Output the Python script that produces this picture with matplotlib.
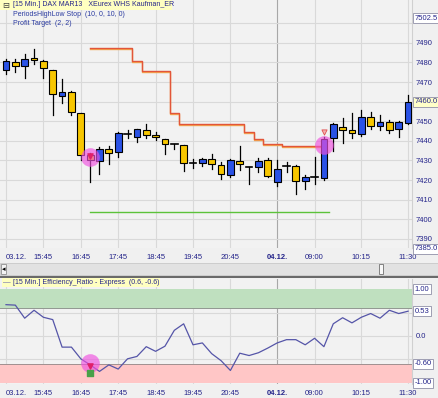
import matplotlib
matplotlib.use("Agg")
import matplotlib.pyplot as plt
import matplotlib.transforms as mtransforms
from matplotlib.patches import Rectangle

plt.rcParams['font.family'] = ['Liberation Sans', 'DejaVu Sans']
plt.rcParams['font.size'] = 5.5

# Velas de 15 minutos (DAX MAR13)
aperturas = [7476, 7480, 7478, 7482.5, 7481, 7476, 7463, 7465, 7454, 7433,
             7429.5, 7436, 7434.5, 7443.5, 7442, 7445.5, 7443, 7441, 7438.5, 7438,
             7428.5, 7428.5, 7430.5, 7427.5, 7422.5, 7429.5, 7426.5, 7426.5, 7430,
             7419, 7427, 7427, 7419.5, 7421.5, 7421, 7441.5, 7447, 7445.5, 7443.5,
             7452, 7447.5, 7449.5, 7446, 7449]
maximos = [7482, 7482, 7484.5, 7487, 7481.5, 7476, 7471.5, 7465.5, 7454, 7434,
           7437, 7437.5, 7444.5, 7445.5, 7446, 7448.5, 7444.5, 7441, 7438.5, 7438,
           7430.5, 7431, 7433.5, 7429, 7430.5, 7437.5, 7426.5, 7431, 7431,
           7430, 7429, 7427.5, 7422.5, 7432, 7442, 7449, 7451.5, 7454, 7455.5,
           7454.5, 7453, 7450.5, 7450, 7463.5]
minimos = [7474, 7475, 7472, 7479, 7472, 7453, 7459.5, 7453, 7430, 7419,
           7423, 7428, 7431.5, 7441.5, 7439.5, 7441.5, 7440.5, 7433.5, 7436, 7424.5,
           7426, 7427, 7425.5, 7420.5, 7421.5, 7425, 7418, 7424, 7421.5,
           7417, 7424, 7413, 7415.5, 7418, 7420, 7435, 7439, 7441.5, 7442.5,
           7446, 7445.5, 7444, 7442, 7448.5]
cierres = [7481, 7478, 7482, 7481.5, 7477, 7464, 7465, 7454.5, 7433, 7430,
           7436, 7434, 7444, 7443.5, 7446, 7443, 7442, 7438.5, 7438.5, 7428.5,
           7428.5, 7430.5, 7428, 7423, 7430, 7428, 7426.5, 7429.5, 7422,
           7425.5, 7427, 7419.5, 7421.5, 7421.5, 7441, 7448.5, 7445.5, 7444, 7452,
           7447.5, 7449.5, 7445.5, 7449.5, 7460]

# Stop PeriodsHighLow (desde la vela 9)
stop_inicio = 9
stop_valores = [7487.5, 7487.5, 7487.5, 7487.5, 7487.5, 7481, 7475.5, 7475.5, 7475.5,
                7454, 7448.5, 7448.5, 7448.5, 7448.5, 7448.5, 7448.5, 7448.5,
                7444.5, 7441, 7438.5, 7438.5, 7437.5, 7437.5, 7437.5, 7437.5, 7437.5]
objetivo = 7403.5

# Efficiency Ratio
er = [0.67, 0.66, 0.38, 0.55, 0.40, 0.35, -0.24, -0.24, -0.49, -0.62,
      -0.76, -0.62, -0.71, -0.49, -0.44, -0.23, -0.33, -0.22, 0.12, 0.26,
      -0.19, -0.15, -0.38, -0.53, -0.74, -0.37, -0.42, -0.36, -0.26,
      -0.15, -0.08, -0.08, -0.19, -0.05, -0.23, 0.26, 0.39, 0.28, 0.40,
      0.48, 0.38, 0.55, 0.48, 0.53]

# Etiquetas del eje de tiempo
tick_pos = [0, 4, 8, 12, 16, 20, 24, 29, 33, 38, 43]
tick_txt = ["03.12.", "15:45", "16:45", "17:45", "18:45", "19:45", "20:45",
            "04.12.", "09:00", "10:15", "11:30"]
precios_eje = list(range(7390, 7501, 10))
dia_nuevo = 29
senal_corto = 9
senal_salida = 34

azul = '#2a52e6'
amarillo = '#f7c600'
texto = '#24248a'
fondo = '#f0f0f0'
rejilla = '#d9d9d9'

W, H = 438, 398
fig = plt.figure(figsize=(W / 100, H / 100), dpi=100, facecolor=fondo)


def caja(x0, y0, x1, y1):
    return [x0 / W, 1 - y1 / H, (x1 - x0) / W, (y1 - y0) / H]


ax = fig.add_axes(caja(0, 0, 412, 248), facecolor='#f2f2f2')
ax2 = fig.add_axes(caja(0, 279, 412, 384), facecolor='#f2f2f2')

n = len(cierres)
xs = list(range(n))

for a in (ax, ax2):
    a.set_xlim(-0.64, 43.42)
    for s in ['top', 'left', 'bottom']:
        a.spines[s].set_visible(False)
    a.spines['right'].set_color('#d0d0d0')
    a.set_xticks(tick_pos)
    a.set_xticklabels(tick_txt)
    a.tick_params(axis='x', length=0, pad=4, colors=texto)
    a.tick_params(axis='y', length=0, pad=2.5, colors=texto)
    a.yaxis.tick_right()
    for p in tick_pos:
        a.axvline(p, color='#a8a8a8' if p == dia_nuevo else rejilla, lw=0.8, zorder=0)
    lbls = a.get_xticklabels()
    lbls[0].set_ha('left')
    lbls[tick_txt.index("04.12.")].set_fontweight('bold')

# ---- panel de precios ----
ax.set_ylim(7385.3, 7511.9)
ax.set_yticks(precios_eje)
# las etiquetas tapadas por las cajas quedan vacias
ax.set_yticklabels(["" if v in (7500, 7460) else str(v) for v in precios_eje])
for v in precios_eje:
    ax.axhline(v, color=rejilla, lw=0.8, zorder=0)

xs_stop = list(range(stop_inicio, stop_inicio + len(stop_valores)))
desplazado = ax.transData + mtransforms.ScaledTranslation(0, -1 / 100, fig.dpi_scale_trans)
ax.plot(xs_stop, stop_valores, drawstyle='steps-mid', color='#f4a850', lw=1.0,
        transform=desplazado, zorder=2)
ax.plot(xs_stop, stop_valores, drawstyle='steps-mid', color='#e2553a', lw=1.0, zorder=2)
ax.plot([xs_stop[0], xs_stop[-1] + 0.5], [objetivo, objetivo], color='#5cc23a', lw=1.0, zorder=2)

for i in xs:
    o, h, l, c = aperturas[i], maximos[i], minimos[i], cierres[i]
    ax.plot([i, i], [l, h], color='black', lw=0.9, zorder=3)
    if o == c:
        ax.plot([i - 0.36, i + 0.36], [o, o], color='black', lw=1.2, zorder=4)
    else:
        col = azul if c > o else amarillo
        ax.add_patch(Rectangle((i - 0.36, min(o, c)), 0.72, abs(c - o), fc=col,
                               ec='black', lw=0.8, zorder=4))

# senales
y_ent = (aperturas[senal_corto] + cierres[senal_corto]) / 2
ax.scatter([senal_corto], [y_ent], s=180, color='#f050e0', alpha=0.65, lw=0, zorder=5)
ax.scatter([senal_corto], [maximos[senal_corto] - 1.5], marker='v', s=14,
           color='#e0206a', zorder=6)
y_sal = cierres[senal_salida] - 3
ax.scatter([senal_salida], [y_sal], s=180, color='#f050e0', alpha=0.65, lw=0, zorder=5)
ax.scatter([senal_salida], [maximos[senal_salida] + 2.5], marker='v', s=14,
           facecolor='#f4b0b0', edgecolor='#e05050', lw=0.6, zorder=6)

cajita = dict(boxstyle='square,pad=0.2', fc='white', ec='#9090a8', lw=0.6)
for val, txt, fc in [(7502.5, "7502.5", 'white'), (7385.0, "7385.0", 'white'),
                     (cierres[-1], "%.1f" % cierres[-1], '#ffffc8')]:
    b = dict(cajita)
    b['fc'] = fc
    ax.text(1.006, val, txt, transform=ax.get_yaxis_transform(), va='center',
            ha='left', color=texto, bbox=b, zorder=10, clip_on=False)

# leyenda superior
fig.patches.append(Rectangle((0, 1 - 10 / H), 172 / W, 10 / H, transform=fig.transFigure,
                             fc='#ffffc0', ec='none', zorder=5))
fig.text(2 / W, 1 - 5 / H, "⊟", color='#404040', va='center', ha='left', fontsize=6,
         family='DejaVu Sans', zorder=6)
fig.text(13 / W, 1 - 5 / H, "[15 Min.] DAX MAR13   XEurex WHS Kaufman_ER", color=texto,
         va='center', ha='left', fontsize=5, zorder=6)
fig.text(13 / W, 1 - 14.5 / H, "PeriodsHighLow Stop  (10, 0, 10, 0)", color='#2a3aa0',
         va='center', ha='left', fontsize=5, zorder=6)
fig.text(13 / W, 1 - 23.5 / H, "Profit Target  (2, 2)", color='#2a3aa0',
         va='center', ha='left', fontsize=5, zorder=6)

# barra de desplazamiento y separador
fig.patches.append(Rectangle((0, 1 - 275 / H), 1, 12 / H, transform=fig.transFigure,
                             fc='#e2e2e2', ec='#c8c8c8', lw=0.6, zorder=1))
fig.patches.append(Rectangle((1 / W, 1 - 274 / H), 5 / W, 10 / H, transform=fig.transFigure,
                             fc='#f4f4f4', ec='#909090', lw=0.6, zorder=2))
fig.text(3.5 / W, 1 - 269 / H, "◂", fontsize=5, ha='center', va='center', color='black',
         family='DejaVu Sans', zorder=3)
fig.patches.append(Rectangle((379 / W, 1 - 274 / H), 4 / W, 10 / H, transform=fig.transFigure,
                             fc='#f8f8f8', ec='#707070', lw=0.6, zorder=2))
fig.patches.append(Rectangle((0, 1 - 278 / H), 1, 2 / H, transform=fig.transFigure,
                             fc='#6a6a6a', ec='none', zorder=2))

# ---- panel Efficiency Ratio ----
ax2.set_ylim(-1.03, 1.22)
ax2.set_yticks([0.0])
ax2.set_yticklabels(["0.0"])
for v in [0.5, 0.0, -0.5]:
    ax2.axhline(v, color=rejilla, lw=0.8, zorder=0)
ax2.axhspan(0.6, 1.0, color='#bfe0bf', zorder=1, lw=0)
ax2.axhspan(-1.0, -0.6, color='#ffc6c6', zorder=1, lw=0)
ax2.axhline(0.6, color='#909890', lw=0.7, zorder=1)
ax2.axhline(-0.6, color='#a09090', lw=0.7, zorder=1)
ax2.plot(xs, er, color='#5555a8', lw=0.9, zorder=3)

ax2.scatter([senal_corto], [er[senal_corto] + 0.03], s=180, color='#f050e0', alpha=0.65,
            lw=0, zorder=5)
ax2.scatter([senal_corto], [er[senal_corto] - 0.02], marker='v', s=14, color='#e0206a', zorder=6)
ax2.scatter([senal_corto], [er[senal_corto] - 0.17], marker='s', s=14, color='#48a048', zorder=6)

for val, txt in [(1.0, "1.00"), (er[-1], "%.2f" % er[-1]), (-0.6, "-0.60"), (-1.0, "-1.00")]:
    ax2.text(1.006, val, txt, transform=ax2.get_yaxis_transform(), va='center', ha='left',
             color=texto, bbox=cajita, zorder=10, clip_on=False)

fig.patches.append(Rectangle((2 / W, 1 - 287 / H), 158 / W, 9 / H, transform=fig.transFigure,
                             fc='#ffffc0', ec='none', zorder=5))
fig.text(3 / W, 1 - 282.5 / H, "—", color='#5555a8', va='center', ha='left', zorder=6)
fig.text(13 / W, 1 - 282.5 / H, "[15 Min.] Efficiency_Ratio - Express  (0.6, -0.6)",
         color=texto, va='center', ha='left', fontsize=5, zorder=6)

fig.savefig("out.png", dpi=100, facecolor=fondo)
